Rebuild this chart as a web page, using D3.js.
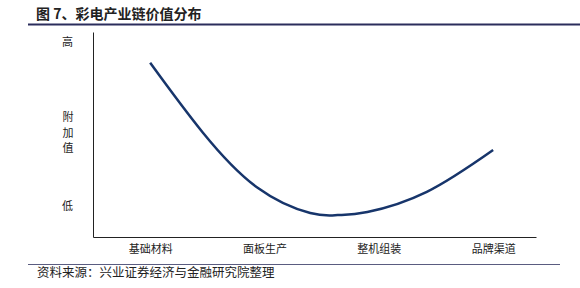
<!DOCTYPE html>
<html>
<head>
<meta charset="utf-8">
<script src="https://cdn.jsdelivr.net/npm/d3@7"></script>
<style>
  body { margin: 0; background: #fff; }
  text { font-family: "Noto Sans CJK SC", sans-serif; fill: #222; }
</style>
</head>
<body>
<script>
// chart data
var categories = ["基础材料", "面板生产", "整机组装", "品牌渠道"];
// curve points: position along the chain (category index) and value added (0-100)
var curvePos = [0, 0.46, 0.94, 1.4, 1.64, 1.9, 2.42, 3.0];
var curveVal = [85, 51, 24, 11.7, 10.7, 12.2, 22, 42.4];
var yLabels = ["高", "低"];
var yLabelVals = [95, 15];

var w = 580, h = 288;

var svg = d3.select("body").append("svg")
    .attr("width", w)
    .attr("height", h);

// title
svg.append("text")
    .attr("x", 36)
    .attr("y", 19)
    .style("font-size", "14px")
    .style("font-weight", "bold")
    .text("图 7、彩电产业链价值分布");

// title underline
svg.append("line")
    .attr("x1", 28).attr("x2", 580)
    .attr("y1", 24.5).attr("y2", 24.5)
    .style("stroke", "#2b2d5c")
    .style("stroke-width", 2);

// scales
var x = d3.scaleLinear()
    .domain([-0.5, 3.375])
    .range([93, 536]);

var y = d3.scaleLinear()
    .domain([0, 100])
    .range([237, 32]);

// x axis with category labels
var xAxis = d3.axisBottom(x)
    .tickValues([0, 1, 2, 3])
    .tickFormat(function (d) { return categories[d]; })
    .tickSize(0)
    .tickSizeOuter(0)
    .tickPadding(8);

var gx = svg.append("g")
    .attr("transform", "translate(0," + y(0) + ")")
    .call(xAxis);
gx.select(".domain").style("stroke", "#222");
gx.selectAll("text")
    .style("font-size", "11px")
    .style("font-family", "'Noto Sans CJK SC', sans-serif")
    .style("fill", "#222");

// y axis with 高 / 低
var yAxis = d3.axisLeft(y)
    .tickValues(yLabelVals)
    .tickFormat(function (d, i) { return yLabels[i]; })
    .tickSize(0)
    .tickSizeOuter(0)
    .tickPadding(20);

var gy = svg.append("g")
    .attr("transform", "translate(" + x(-0.5) + ",0)")
    .call(yAxis);
gy.select(".domain").style("stroke", "#222");
gy.selectAll("text")
    .style("font-size", "11px")
    .style("font-family", "'Noto Sans CJK SC', sans-serif")
    .style("fill", "#222");

// vertical axis title 附加值
var yTitle = svg.append("text")
    .attr("text-anchor", "middle")
    .style("font-size", "11px");
["附", "加", "值"].forEach(function (c, i) {
    yTitle.append("tspan")
        .attr("x", 68)
        .attr("y", 121 + i * 15.5)
        .text(c);
});

// value curve
var line = d3.line()
    .x(function (d) { return x(d[0]); })
    .y(function (d) { return y(d[1]); })
    .curve(d3.curveNatural);

svg.append("path")
    .datum(d3.zip(curvePos, curveVal))
    .attr("d", line)
    .style("fill", "none")
    .style("stroke", "#17356b")
    .style("stroke-width", 2.5);

// bottom rule
svg.append("line")
    .attr("x1", 28).attr("x2", 560)
    .attr("y1", 264.5).attr("y2", 264.5)
    .style("stroke", "#5a5c80")
    .style("stroke-width", 1);

// source note
svg.append("text")
    .attr("x", 37)
    .attr("y", 277)
    .style("font-size", "12.5px")
    .text("资料来源：兴业证券经济与金融研究院整理");
</script>
</body>
</html>
